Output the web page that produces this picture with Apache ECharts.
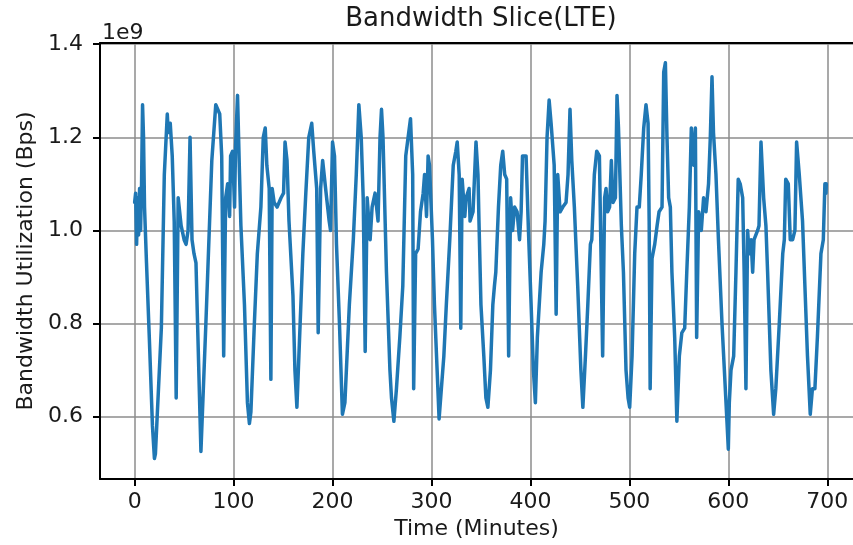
<!DOCTYPE html>
<html>
<head>
	<meta charset="utf-8">
	<title>Bandwidth Slice(LTE)</title>
	<script src="https://cdn.jsdelivr.net/npm/echarts@6/dist/echarts.min.js"></script>
	<style type="text/css">
		html, body { margin: 0; padding: 0; background: #fff; }
		#chart { width: 853px; height: 545px; }
	</style>
</head>
<body>
<div id="chart"></div>
<script type="text/javascript">

	// ================= data, values in units of 1e9 Bps
	var minutes = [
		0, 1, 2, 3, 4, 5, 6, 7, 8, 9, 10, 12, 15, 18, 20, 21, 27, 30, 33, 34, 36, 38,
		40, 42, 44, 47, 50, 52, 54, 56, 58, 60, 62, 67, 72, 78, 82, 86, 88, 90, 92, 94,
		96, 97, 99, 101, 102, 104, 106, 107.4, 111, 114, 116, 117.5, 121, 124, 127.6,
		130, 132, 133.6, 136, 137.7, 139, 141, 144, 148, 150.5, 152, 154, 156, 160, 162,
		164, 166, 170, 173, 176, 179, 181, 184, 185.5, 188, 190, 193, 196.6, 198, 200,
		202, 204, 207, 210, 212.5, 217, 221, 224, 226.6, 229, 231, 233, 235, 238, 240,
		243, 246, 248, 249.5, 251, 254.5, 258, 259.6, 262, 264.6, 268, 271, 274, 276.4,
		278.8, 281, 282, 284, 286.5, 288.9, 291.6, 293, 295, 296.6, 298, 301, 303, 305.7,
		307.7, 310, 312.5, 315, 318.5, 322, 324.6, 326, 328, 329.6, 331, 333.7, 335, 338,
		339, 342, 345, 347, 348, 350, 352.9, 355, 357, 359.6, 362, 363.6, 365, 367.7,
		370, 372, 374, 376, 378, 380, 382, 384, 386.5, 389, 390.6, 392, 395.6, 398,
		400.7, 403, 405, 407, 410.8, 413.5, 414.8, 416.8, 418.9, 420.9, 422.6, 424, 426,
		427.6, 430, 432.7, 436, 438, 440, 441.8, 444.4, 447.8, 451, 453, 455.6, 458,
		460.6, 462, 464.6, 467, 469.7, 471, 473, 475, 476.4, 478, 480, 481.8, 483.5,
		485.9, 487.5, 489, 491.9, 494, 496.6, 498.7, 500.3, 502.7, 505.4, 507.7, 510,
		512, 514.5, 516.8, 518.9, 520, 521, 522.9, 525.6, 528, 530, 533, 534.7, 536.4,
		538, 539.7, 541.4, 543, 545.8, 548, 550.5, 553, 555.9, 558, 560.6, 562.6, 565,
		566.7, 568, 570, 572.7, 575, 577.4, 580, 581.8, 583.5, 585, 587.5, 590, 593.6,
		596, 598.6, 600, 601, 602.7, 605.4, 607.7, 610, 612, 614.5, 616, 617.8, 619.5,
		621, 623, 624.6, 626, 629.6, 631, 633, 635.7, 638, 639.7, 643, 645.8, 648,
		651.5, 655, 656.6, 658, 660.6, 662.6, 665, 667.3, 669, 671.7, 675, 677.4, 680,
		682.8, 685, 687.5, 690, 693.6, 696, 697.6, 698.7, 699
	];
	var bandwidth = [
		1.06, 1.08, 0.97, 1.07, 0.99, 1.09, 1.00, 1.10, 1.27, 1.20, 1.05, 0.93, 0.76, 0.58, 0.51, 0.52, 0.79, 1.12, 1.25, 1.21, 1.23, 1.16,
		1.02, 0.64, 1.07, 1.01, 0.98, 0.97, 1.00, 1.20, 0.98, 0.95, 0.93, 0.525, 0.80, 1.15, 1.27, 1.25, 1.16, 0.73, 1.07, 1.10,
		1.03, 1.16, 1.17, 1.05, 1.18, 1.29, 1.12, 1.01, 0.84, 0.63, 0.585, 0.61, 0.80, 0.95, 1.05,
		1.20, 1.22, 1.14, 1.09, 0.68, 1.09, 1.06, 1.05, 1.07, 1.08, 1.19, 1.15, 1.02, 0.86, 0.70,
		0.62, 0.73, 0.95, 1.08, 1.20, 1.23, 1.17, 1.09, 0.78, 1.09, 1.15, 1.09, 1.02, 1.00, 1.19,
		1.16, 0.97, 0.80, 0.605, 0.63, 0.84, 0.98, 1.12, 1.27, 1.20, 1.07, 0.74, 1.07, 0.98, 1.05,
		1.08, 1.02, 1.20, 1.26, 1.20, 0.91, 0.70, 0.64, 0.59, 0.66, 0.77, 0.88, 1.16, 1.20,
		1.24, 1.12, 0.66, 0.95, 0.96, 1.04, 1.08, 1.12, 1.03, 1.16, 1.14, 0.98, 0.84, 0.70,
		0.595, 0.66, 0.73, 0.84, 0.98, 1.14, 1.17, 1.19, 1.12, 0.79, 1.11, 1.03, 1.07, 1.09,
		1.02, 1.04, 1.19, 1.12, 1.02, 0.84, 0.73, 0.64, 0.62, 0.70, 0.84, 0.88, 0.91, 1.05,
		1.14, 1.17, 1.12, 1.11, 0.73, 1.07, 1.00, 1.05, 1.04, 0.98, 1.04, 1.16, 1.16, 1.00,
		0.84, 0.70, 0.63, 0.77, 0.91, 0.97, 1.02, 1.20, 1.28, 1.23, 1.23, 1.14, 0.82,
		1.12, 1.04, 1.05, 1.06, 1.12, 1.26, 1.15, 1.05, 0.88, 0.70, 0.62, 0.73, 0.84,
		0.97, 0.98, 1.12, 1.17, 1.16, 1.16, 0.73, 1.07, 1.09, 1.04, 1.05, 1.15, 1.06,
		1.07, 1.29, 1.22, 1.01, 0.91, 0.70, 0.64, 0.62, 0.73, 0.95, 1.05, 1.05,
		1.12, 1.22, 1.27, 1.23, 1.02, 0.66, 0.94, 0.97, 1.01, 1.04, 1.05, 1.34, 1.36,
		1.20, 1.07, 1.05, 0.91, 0.77, 0.59, 0.73, 0.78, 0.79, 0.91, 1.05, 1.22, 1.14,
		1.22, 0.77, 1.04, 1.00, 1.07, 1.04, 1.10, 1.20, 1.33, 1.21, 1.12, 0.98, 0.80,
		0.70, 0.59, 0.53, 0.63, 0.70, 0.73, 0.91, 1.11, 1.10, 1.07, 0.91, 0.66, 1.00,
		0.95, 0.98, 0.91, 0.98, 1.00, 1.01, 1.19, 1.07, 1.01, 0.91, 0.70, 0.605, 0.66,
		0.80, 0.95, 0.98, 1.11, 1.10, 0.98, 0.98, 1.00, 1.19, 1.12, 1.02, 0.88, 0.73,
		0.605, 0.66, 0.66, 0.77, 0.95, 0.98, 1.10, 1.08, 1.10
	];
	var xTicks = [0, 100, 200, 300, 400, 500, 600, 700];
	var yTicks = [0.6, 0.8, 1.0, 1.2, 1.4];

	// ================= render
	var seriesData = minutes.map(function(m, i) { return [m, bandwidth[i]]; });
	var font = 'DejaVu Sans';
	var ink = '#1a1a1a';

	var myChart = echarts.init(document.getElementById('chart'), null, { renderer: 'canvas' });
	var option = {
		animation: false,
		backgroundColor: '#fff',
		title: {
			text: 'Bandwidth Slice(LTE)',
			left: 481,
			top: 6,
			padding: 0,
			textAlign: 'center',
			textStyle: { fontFamily: font, fontSize: 26, fontWeight: 'normal', color: ink }
		},
		// the right spine lies past the picture's edge, so the plot runs to the border
		grid: { left: 100, right: 0, top: 43, bottom: 63, containLabel: false },
		xAxis: [{
			type: 'value',
			min: -35,
			max: 726,
			name: 'Time (Minutes)',
			nameLocation: 'middle',
			nameGap: 39,
			nameTextStyle: { fontFamily: font, fontSize: 22, color: ink },
			axisLine: { show: true, onZero: false, lineStyle: { color: '#000', width: 2 } },
			axisTick: { show: true, inside: false, length: 7, customValues: xTicks, lineStyle: { color: '#000', width: 2 } },
			axisLabel: { customValues: xTicks, margin: 12, fontFamily: font, fontSize: 22, color: ink },
			splitLine: { show: true, lineStyle: { color: '#8c8c8c', width: 1.5 } }
		}, {
			type: 'value',
			position: 'top',
			min: -35,
			max: 726,
			axisLine: { show: true, onZero: false, lineStyle: { color: '#000', width: 2 } },
			axisTick: { show: false },
			axisLabel: { show: false },
			splitLine: { show: false }
		}],
		yAxis: {
			type: 'value',
			min: 0.466,
			max: 1.4025,
			name: 'Bandwidth Utilization (Bps)',
			nameLocation: 'middle',
			nameGap: 59,
			nameTextStyle: { fontFamily: font, fontSize: 22, color: ink },
			axisLine: { show: true, onZero: false, lineStyle: { color: '#000', width: 2 } },
			axisTick: { show: true, inside: false, length: 7, customValues: yTicks, lineStyle: { color: '#000', width: 2 } },
			axisLabel: {
				customValues: yTicks,
				margin: 17,
				fontFamily: font,
				fontSize: 22,
				color: ink,
				formatter: function(v) { return v.toFixed(1); }
			},
			splitLine: { show: true, lineStyle: { color: '#8c8c8c', width: 1.5 } }
		},
		graphic: [{
			type: 'text',
			left: 102,
			top: 22,
			style: { text: '1e9', font: '22px "DejaVu Sans"', fill: ink }
		}],
		series: [{
			name: 'LTE',
			type: 'line',
			xAxisIndex: 0,
			data: seriesData,
			showSymbol: false,
			symbol: 'none',
			lineStyle: { color: '#1f77b4', width: 3.5, join: 'round', cap: 'round' },
			itemStyle: { color: '#1f77b4' }
		}]
	};
	myChart.setOption(option);

	window.onresize = function() {
		myChart.resize();
	};
</script>
</body>
</html>
